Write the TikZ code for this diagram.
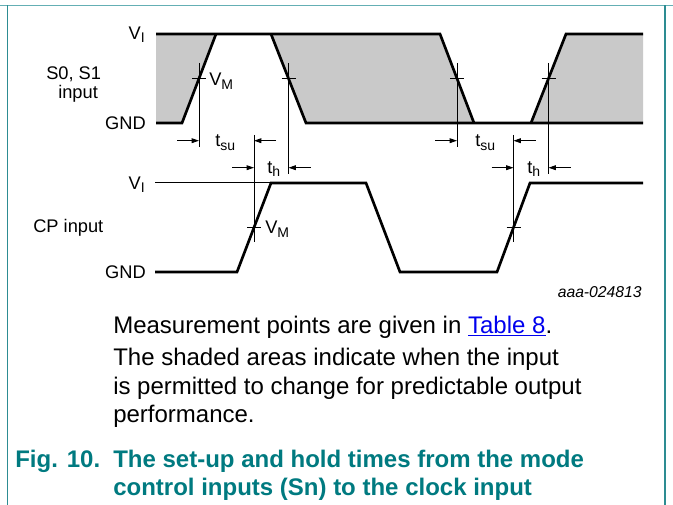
\documentclass[tikz,border=0pt]{standalone}
\usepackage{fontspec}
\setmainfont{Liberation Sans}
\usetikzlibrary{arrows.meta,calc}
\definecolor{capteal}{RGB}{0,122,128}
\definecolor{bordertop}{RGB}{100,175,180}
\definecolor{borderside}{RGB}{45,140,146}
\definecolor{shadegray}{RGB}{201,201,201}
\definecolor{linkblue}{RGB}{0,0,238}
\newcommand\lblsz{\fontsize{13.7}{16}\selectfont}
\newcommand\subsz[1]{\raisebox{-2.3pt}{\fontsize{10.5}{12}\selectfont #1}}
\begin{document}
\begin{tikzpicture}[x=0.75pt,y=-0.75pt,
  wave/.style={line width=2pt, line join=miter, black},
  refline/.style={line width=0.75pt, black},
  tickmark/.style={line width=0.75pt, black},
  dimarrow/.style={line width=0.75pt, -{Triangle[length=5.5pt,width=3.6pt]}},
  lbl/.style={font=\lblsz, inner sep=0pt},
  captext/.style={font=\fontsize{18}{21.6}\selectfont, inner sep=0pt, anchor=base west},
  figcap/.style={font=\fontsize{18}{21.6}\selectfont\bfseries, text=capteal, inner sep=0pt, anchor=base west}]
\useasboundingbox (0,0) rectangle (673,505);

% ---------- frame ----------
\draw[bordertop, line width=1.2pt] (0,5.5) -- (673,5.5);
\draw[borderside, line width=1.3pt] (7.5,5.5) -- (7.5,505);
\draw[borderside, line width=1pt] (665,5.5) -- (665,505);

% ---------- S0, S1 waveform ----------
\coordinate (s0a) at (156,123);
\coordinate (s0t) at (156,34);
\coordinate (s0b) at (182,123);
\coordinate (s0c) at (216,34);
\coordinate (s0d) at (271,34);
\coordinate (s0e) at (306,123);
\coordinate (s0f) at (440,34);
\coordinate (s0g) at (474,123);
\coordinate (s0h) at (531,123);
\coordinate (s0i) at (566,34);
\coordinate (s0j) at (643,34);
\coordinate (s0k) at (643,123);

\fill[shadegray] (s0t) -- (s0c) -- (s0b) -- (s0a) -- cycle;
\fill[shadegray] (s0d) -- (s0f) -- (s0g) -- (s0e) -- cycle;
\fill[shadegray] (s0i) -- (s0j) -- (s0k) -- (s0h) -- cycle;

\draw[wave] (s0t) -- (s0f) -- (s0g);
\draw[wave] (s0a) -- (s0b) -- (s0c);
\draw[wave] (s0d) -- (s0e) -- (s0k);
\draw[wave] (s0h) -- (s0i) -- (s0j);

% crossings
\coordinate (m1) at ($(s0b)!0.5!(s0c)$);
\coordinate (m2) at ($(s0d)!0.5!(s0e)$);
\coordinate (m3) at ($(s0f)!0.5!(s0g)$);
\coordinate (m4) at ($(s0h)!0.5!(s0i)$);

% ---------- CP waveform ----------
\coordinate (c0) at (155,272);
\coordinate (c1) at (237,272);
\coordinate (c2) at (271,183);
\coordinate (c3) at (366,183);
\coordinate (c4) at (400,272);
\coordinate (c5) at (497,272);
\coordinate (c6) at (530,183);
\coordinate (c7) at (643,183);
\coordinate (cvi) at (155,183);

\draw[refline] (cvi) -- (c2);
\draw[wave] (c0) -- (c1) -- (c2) -- (c3) -- (c4) -- (c5) -- (c6) -- (c7);

\coordinate (n1) at ($(c1)!0.5!(c2)$);
\coordinate (n2) at ($(c5)!0.5!(c6)$);

% ---------- reference lines and ticks ----------
\foreach \p/\lo in {m1/68.5, m2/95.5, m3/68.5, m4/95.5}{
  \draw[refline] ($(\p)+(0,-15.5)$) -- ($(\p)+(0,\lo)$);
  \draw[tickmark] ($(\p)+(-7,0)$) -- ($(\p)+(7,0)$);
}
\foreach \p in {n1,n2}{
  \draw[refline] ($(\p)+(0,-92.5)$) -- ($(\p)+(0,14.5)$);
  \draw[tickmark] ($(\p)+(-7,0)$) -- ($(\p)+(7,0)$);
}

% ---------- timing arrows ----------
\coordinate (tsuY) at (0,140.7);
\coordinate (thY) at (0,167.7);
\coordinate (a1) at (m1|-tsuY);
\coordinate (a2) at (n1|-tsuY);
\coordinate (a3) at (n1|-thY);
\coordinate (a4) at (m2|-thY);
\coordinate (b1) at (m3|-tsuY);
\coordinate (b2) at (n2|-tsuY);
\coordinate (b3) at (n2|-thY);
\coordinate (b4) at (m4|-thY);
\draw[dimarrow] ($(a1)+(-22,0)$) -- (a1);
\draw[dimarrow] ($(a2)+(22,0)$) -- (a2);
\draw[dimarrow] ($(a3)+(-22,0)$) -- (a3);
\draw[dimarrow] ($(a4)+(22,0)$) -- (a4);
\draw[dimarrow] ($(b1)+(-22,0)$) -- (b1);
\draw[dimarrow] ($(b2)+(22,0)$) -- (b2);
\draw[dimarrow] ($(b3)+(-22,0)$) -- (b3);
\draw[dimarrow] ($(b4)+(22,0)$) -- (b4);

% ---------- labels ----------
\node[lbl, anchor=base east] (vi1) at (145,39.5) {V\subsz{I}};
\node[lbl, anchor=base west] (s01) at (46,79.5) {S0, S1};
\node[lbl, anchor=base west] (inp) at (58,98.5) {input};
\node[lbl, anchor=base east] (gnd1) at (146,129.5) {GND};
\node[lbl, anchor=base west] (vm1) at (209,86) {V\subsz{M}};
\node[lbl, anchor=base west] (tsu1) at (215,147) {t\subsz{su}};
\node[lbl, anchor=base west] (th1) at (267,173.5) {t\subsz{h}};
\node[lbl, anchor=base west] (tsu2) at (475,147) {t\subsz{su}};
\node[lbl, anchor=base west] (th2) at (527,173.5) {t\subsz{h}};
\node[lbl, anchor=base east] (vi2) at (145,189.5) {V\subsz{I}};
\node[lbl, anchor=base west] (cp) at (33,233) {CP input};
\node[lbl, anchor=base west] (vm2) at (265,234) {V\subsz{M}};
\node[lbl, anchor=base east] (gnd2) at (146,278.5) {GND};
\node[font=\fontsize{11.8}{14}\selectfont\itshape, inner sep=0pt, anchor=base east] (code) at (642,297) {aaa-024813};

% ---------- caption ----------
\node[captext] (p1) at (113,333) {Measurement points are given in \textcolor{linkblue}{\underline{Table 8}}.};
\node[captext] (p2) at (113,365.5) {The shaded areas indicate when the input};
\node[captext] (p3) at (113,394) {is permitted to change for predictable output};
\node[captext] (p4) at (113,422.5) {performance.};
\node[figcap] (f0) at (15,467) {Fig. 10.};
\node[figcap] (f1) at (113,467) {The set-up and hold times from the mode};
\node[figcap] (f2) at (113,495) {control inputs (Sn) to the clock input};
\end{tikzpicture}
\end{document}
